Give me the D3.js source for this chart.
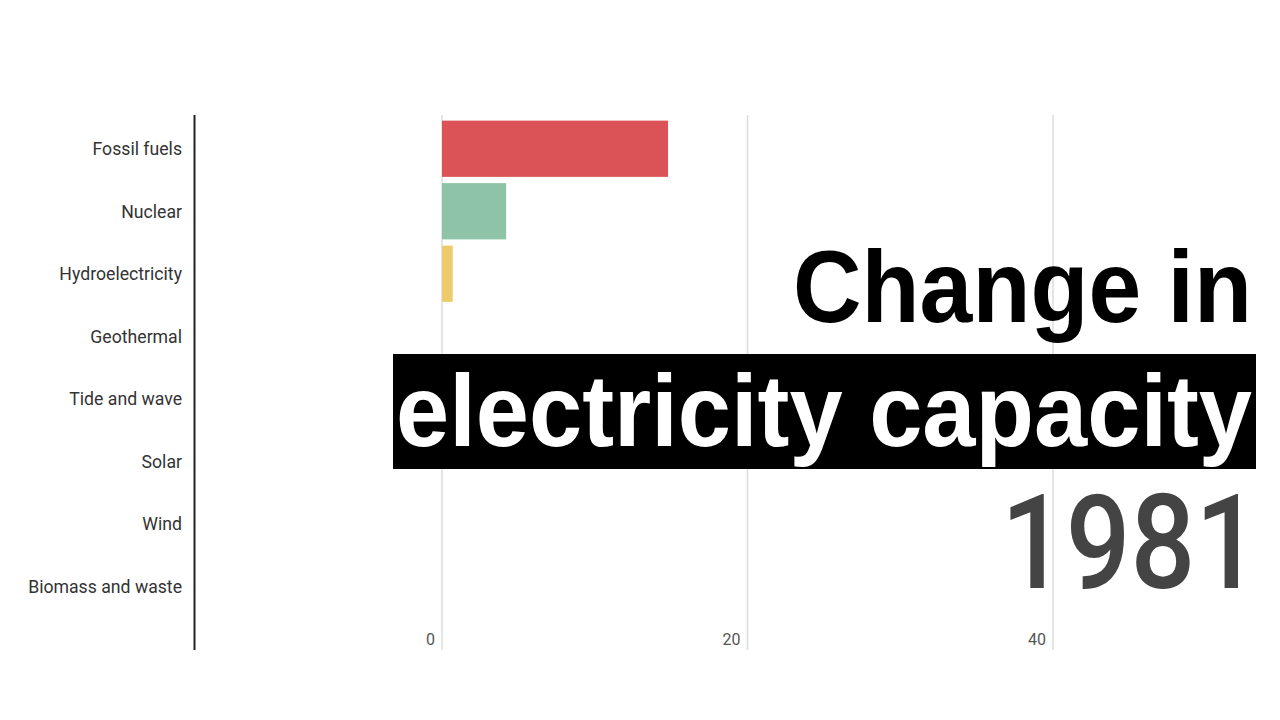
<!DOCTYPE html>
<html>
<head>
<meta charset="utf-8">
<script src="https://cdn.jsdelivr.net/npm/d3@7"></script>
<style>
  html, body { margin: 0; padding: 0; background: #fff; }
  svg { display: block; }
</style>
</head>
<body>
<svg id="chart" width="1280" height="720"></svg>
<script>
// data for the 1981 frame
const categories = ["Fossil fuels", "Nuclear", "Hydroelectricity", "Geothermal",
  "Tide and wave", "Solar", "Wind", "Biomass and waste"];
const values = [14.8, 4.2, 0.7, 0, 0, 0, 0, 0];
const colors = ["#db5356", "#8fc3a7", "#eecb6a", "#999", "#999", "#999", "#999", "#999"];
const xTicks = [0, 20, 40];
const titleLines = ["Change in", "electricity capacity"];
const year = "1981";

const svg = d3.select("#chart");

const x = d3.scaleLinear().domain([0, 40]).range([442, 1053]);
const y = d3.scaleBand()
  .domain(categories)
  .range([117.5, 617.5])
  .paddingInner(0.1)
  .paddingOuter(0.05);

const plotTop = 115, plotBottom = 650;

// gridlines
svg.append("g")
  .selectAll("line")
  .data(xTicks)
  .join("line")
  .attr("x1", d => x(d)).attr("x2", d => x(d))
  .attr("y1", plotTop).attr("y2", plotBottom)
  .attr("stroke", "#dcdcdc")
  .attr("stroke-width", 1.5);

// tick labels sit left of the gridline
svg.append("g")
  .selectAll("text")
  .data(xTicks)
  .join("text")
  .attr("x", d => x(d) - 7)
  .attr("y", 645)
  .attr("text-anchor", "end")
  .attr("fill", "#555")
  .style("font", "16px Roboto")
  .text(d => d);

// bars
svg.append("g")
  .selectAll("rect")
  .data(categories)
  .join("rect")
  .attr("x", x(0))
  .attr("y", d => y(d))
  .attr("height", y.bandwidth())
  .attr("width", (d, i) => x(values[i]) - x(0))
  .attr("fill", (d, i) => colors[i]);

// category labels (slightly condensed like the source)
svg.append("g")
  .selectAll("text")
  .data(categories)
  .join("text")
  .attr("transform", d => `translate(182,${y(d) + y.bandwidth() / 2}) scale(0.93,1)`)
  .attr("dy", "0.35em")
  .attr("text-anchor", "end")
  .attr("fill", "#333")
  .style("font", "19px Roboto")
  .text(d => d);

// y axis line
svg.append("line")
  .attr("x1", 194.5).attr("x2", 194.5)
  .attr("y1", plotTop).attr("y2", plotBottom)
  .attr("stroke", "#222")
  .attr("stroke-width", 2);

// title
svg.append("text")
  .attr("x", 1252)
  .attr("y", 322)
  .attr("text-anchor", "end")
  .attr("textLength", 459)
  .attr("lengthAdjust", "spacingAndGlyphs")
  .attr("fill", "#000")
  .style("font-family", "'Liberation Sans', Arial, sans-serif")
  .style("font-weight", "bold")
  .style("font-size", "102px")
  .text(titleLines[0]);

svg.append("rect")
  .attr("x", 393).attr("y", 354)
  .attr("width", 863).attr("height", 115)
  .attr("fill", "#000");

svg.append("text")
  .attr("x", 396)
  .attr("y", 446)
  .attr("textLength", 856)
  .attr("lengthAdjust", "spacingAndGlyphs")
  .attr("fill", "#fff")
  .style("font-family", "'Liberation Sans', Arial, sans-serif")
  .style("font-weight", "bold")
  .style("font-size", "102px")
  .text(titleLines[1]);

// year
svg.append("text")
  .attr("transform", "translate(1260,588) scale(0.87,1)")
  .attr("text-anchor", "end")
  .attr("fill", "#444")
  .style("font", "500 131px Roboto")
  .text(year);
</script>
</body>
</html>
